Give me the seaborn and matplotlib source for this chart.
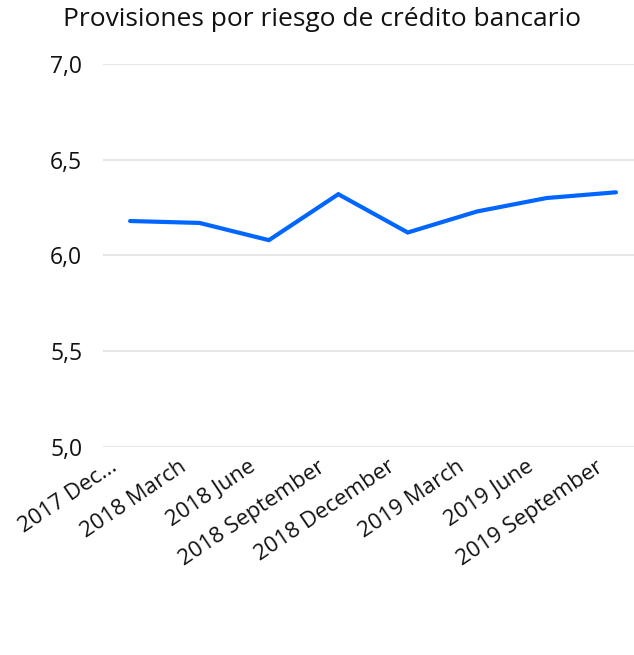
import pandas as pd
import numpy as np
import matplotlib
matplotlib.use("Agg")
import matplotlib.pyplot as plt
import matplotlib.transforms as mtransforms
from matplotlib.ticker import FuncFormatter
import seaborn as sns

# data
periods = ["2017 Dec...", "2018 March", "2018 June", "2018 September",
           "2018 December", "2019 March", "2019 June", "2019 September"]
provisiones = [6.18, 6.17, 6.08, 6.32, 6.12, 6.23, 6.30, 6.33]
y_ticks = [5.0, 5.5, 6.0, 6.5, 7.0]
title = "Provisiones por riesgo de crédito bancario"

df = pd.DataFrame({"pos": np.arange(len(periods)), "periodo": periods, "valor": provisiones})

sns.set_style("white")
plt.rcParams["font.family"] = ["Open Sans", "DejaVu Sans"]

fig = plt.figure(figsize=(6.34, 6.55), dpi=100)
ax = fig.add_axes([0.1625, 0.3176, 0.8375, 0.5847])

sns.lineplot(data=df, x="pos", y="valor", ax=ax, color="#0066ff", linewidth=3,
             solid_joinstyle="miter", solid_capstyle="round")

ax.set_ylim(5.0, 7.0)
ax.set_xlim(-0.39, 7.26)
ax.set_yticks(y_ticks)
ax.yaxis.set_major_formatter(FuncFormatter(lambda v, p: f"{v:.1f}".replace(".", ",")))
ax.grid(axis="y", color="#e6e6e6", linewidth=1.5)
ax.set_axisbelow(True)
for s in ax.spines.values():
    s.set_visible(False)

ax.set_xticks(df["pos"])
ax.set_xticklabels(df["periodo"], rotation=34, ha="right", rotation_mode="anchor",
                   va="center", fontsize=16, color="#111111")
ax.tick_params(axis="x", length=0, pad=0)
ax.tick_params(axis="y", length=0, pad=15, labelsize=16.5, labelcolor="#111111")
offset = mtransforms.ScaledTranslation(-15 / 100, -18 / 100, fig.dpi_scale_trans)
for lbl in ax.get_xticklabels():
    lbl.set_transform(lbl.get_transform() + offset)

ax.set_xlabel("")
ax.set_ylabel("")

fig.text(322 / 634, 1 - 7 / 655, title, ha="center", va="top", fontsize=19, color="#111111")

plt.savefig("out.png", dpi=100)
